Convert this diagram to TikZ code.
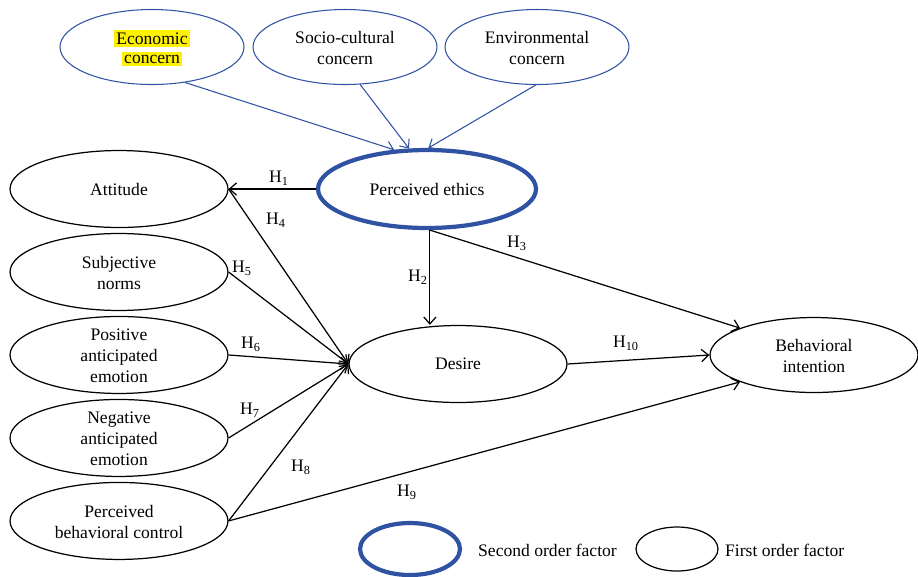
\documentclass[tikz,border=0pt]{standalone}
\usepackage{fontspec}
\setmainfont{Liberation Serif}
\usetikzlibrary{shapes.geometric,arrows.meta,positioning}
\definecolor{ethblue}{RGB}{47,82,163}
\newcommand{\lns}[1]{\smash{\raisebox{-4pt}{\begin{tabular}{@{}c@{}}#1\end{tabular}}}}
\newcommand{\hl}[1]{{\fboxsep=1.5pt\colorbox{yellow}{#1}}}

\begin{document}
\begin{tikzpicture}[x=0.02cm,y=-0.02cm,>={Straight Barb[length=4pt,width=7pt]},node distance=1.66cm,font=\fontsize{10}{12}\selectfont,
  first/.style={ellipse,draw,line width=0.7pt,inner sep=0pt,minimum width=4.36cm,minimum height=1.54cm},
  second/.style={ellipse,draw=ethblue,line width=2.4pt,inner sep=0pt,minimum width=4.36cm,minimum height=1.56cm},
  concern/.style={ellipse,draw=ethblue,line width=0.6pt,inner sep=0pt,minimum width=3.68cm,minimum height=1.5cm},
  link/.style={->,line width=0.7pt},
  blink/.style={->,draw=ethblue,line width=0.6pt}]

            \useasboundingbox (0,0) rectangle (918,576);

            % second order factor and its dimensions
            \node[concern] (eco) at (152,47) {\lns{\hl{Economic}\\[-1.5pt]\hl{concern}}};
            \node[concern] (soc) at (345,47) {\lns{Socio-cultural\\concern}};
            \node[concern] (env) at (537,47) {\lns{Environmental\\concern}};
            \node[second] (pe) at (427,189) {Perceived ethics};

            % first order factors
            \node[first] (att) at (119,189) {Attitude};
            \node[first] (sn) [below of = att] {\lns{Subjective\\norms}};
            \node[first] (pae) [below of = sn] {\lns{Positive\\anticipated\\emotion}};
            \node[first] (nae) [below of = pae] {\lns{Negative\\anticipated\\emotion}};
            \node[first] (pbc) [below of = nae] {\lns{Perceived\\behavioral control}};
            \node[first] (des) at (458,364) {Desire};
            \node[first,minimum width=4.16cm,minimum height=1.5cm] (bi) at (814,355) {\lns{Behavioral\\intention}};

            \draw[blink] (eco.-47) to (pe.130);
            \draw[blink] (soc.-68) to (pe.114);
            \draw[blink] (env.-92) to (pe.88);

            \draw[link] (pe.west) to (att.east);
            \draw[link] (pe.-86) to (pe.-86 |- des.north);
            \draw[link] (pe.-86) to (bi.160);
            \draw[link] (att.east) to (des.west);
            \draw[link] (sn.east) to (des.west);
            \draw[link] (pae.east) to (des.west);
            \draw[link] (nae.east) to (des.west);
            \draw[link] (pbc.east) to (des.west);
            \draw[link] (pbc.east) to (bi.200);
            \draw[link] (des.east) to (bi.west);

            % hypotheses
            \node (h1) at (279,178) {H\textsubscript{1}};
            \node (h2) at (418,277) {H\textsubscript{2}};
            \node (h3) at (517,243) {H\textsubscript{3}};
            \node (h4) at (276,220) {H\textsubscript{4}};
            \node (h5) at (242,268) {H\textsubscript{5}};
            \node (h6) at (251,344) {H\textsubscript{6}};
            \node (h7) at (250,410) {H\textsubscript{7}};
            \node (h8) at (301,467) {H\textsubscript{8}};
            \node (h9) at (407,492) {H\textsubscript{9}};
            \node (h10) at (626,343) {H\textsubscript{10}};

            % legend
            \node[second,minimum width=2cm,minimum height=1.04cm] (key2) at (410,549) {};
            \node[anchor=west] (key2t) at (472,550) {Second order factor};
            \node[first,minimum width=1.64cm,minimum height=0.88cm] (key1) at (677,549) {};
            \node[anchor=west] (key1t) at (719,550) {First order factor};

            ;
        \end{tikzpicture}
\end{document}
